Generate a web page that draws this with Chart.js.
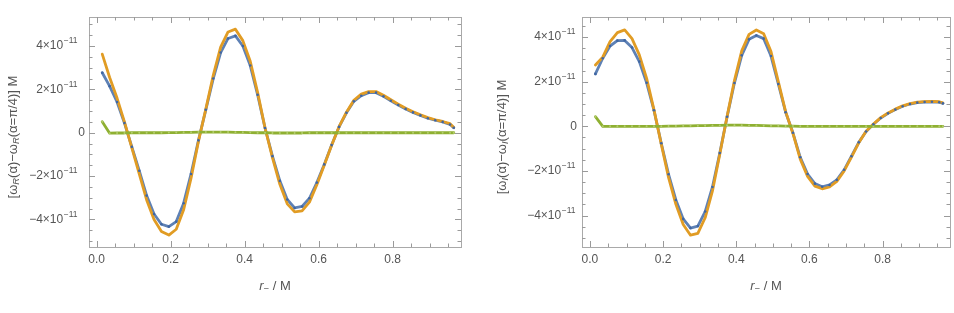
<!DOCTYPE html>
<html>
<head>
<meta charset="utf-8">
<script src="https://cdn.jsdelivr.net/npm/chart.js@4.4.1/dist/chart.umd.min.js"></script>
<style>
  html, body { margin: 0; padding: 0; background: #fff; }
  #wrap { position: relative; width: 954px; height: 313px; overflow: hidden; }
  canvas { position: absolute; top: 0; }
</style>
</head>
<body>
<div id="wrap">
  <canvas id="left-chart" width="477" height="313" style="left:0"></canvas>
  <canvas id="right-chart" width="477" height="313" style="left:477px"></canvas>
</div>
<script>
// r_- / M sample positions
const R_MINUS = [0.015, 0.035, 0.055, 0.075, 0.095, 0.115, 0.135, 0.155, 0.175, 0.195,
  0.215, 0.235, 0.255, 0.275, 0.295, 0.315, 0.335, 0.355, 0.375, 0.395,
  0.415, 0.435, 0.455, 0.475, 0.495, 0.515, 0.535, 0.555, 0.575, 0.595,
  0.615, 0.635, 0.655, 0.675, 0.695, 0.715, 0.735, 0.755, 0.775, 0.795,
  0.815, 0.835, 0.855, 0.875, 0.895, 0.915, 0.935, 0.955, 0.965];

// all values in units of 1e-11
// left panel: omega_R
const WR_BLUE = [2.77, 2.15, 1.42, 0.45, -0.65, -1.75, -2.9, -3.75, -4.22, -4.33,
  -4.1, -3.25, -1.9, -0.35, 1.06, 2.5, 3.7, 4.35, 4.47, 4.0,
  3.1, 1.75, 0.22, -1.08, -2.22, -3.08, -3.47, -3.4, -3.02, -2.3,
  -1.46, -0.57, 0.27, 0.92, 1.45, 1.71, 1.85, 1.85, 1.68, 1.48,
  1.28, 1.1, 0.94, 0.8, 0.67, 0.58, 0.5, 0.38, 0.23];
const WR_ORANGE = [3.63, 2.55, 1.6, 0.5, -0.7, -1.9, -3.1, -4.0, -4.55, -4.72,
  -4.45, -3.55, -2.1, -0.4, 1.1, 2.65, 3.95, 4.65, 4.78, 4.25,
  3.3, 1.85, 0.22, -1.15, -2.38, -3.28, -3.65, -3.6, -3.2, -2.4,
  -1.5, -0.58, 0.28, 0.95, 1.5, 1.78, 1.9, 1.9, 1.73, 1.52,
  1.32, 1.13, 0.97, 0.83, 0.7, 0.6, 0.52, 0.42, 0.25];
const WR_GREEN = [0.51, -0.02, -0.01, -0.01, 0, 0, 0, 0, 0, 0.01,
  0.01, 0.02, 0.02, 0.03, 0.03, 0.03, 0.03, 0.03, 0.02, 0.02,
  0.01, 0, 0, -0.01, -0.01, -0.01, -0.01, -0.01, 0, 0,
  0, 0, 0, 0, 0, 0, 0, 0, 0, 0,
  0, 0, 0, 0, 0, 0, 0, 0, 0];

// right panel: omega_I
const WI_BLUE = [2.35, 3.05, 3.6, 3.84, 3.85, 3.53, 2.9, 1.95, 0.72, -0.76,
  -2.15, -3.3, -4.15, -4.56, -4.47, -3.82, -2.72, -1.2, 0.43, 1.94,
  3.18, 3.9, 4.07, 3.93, 3.15, 1.9, 0.63, -0.29, -1.39, -2.14,
  -2.57, -2.71, -2.63, -2.4, -1.95, -1.34, -0.72, -0.23, 0.09, 0.37,
  0.58, 0.75, 0.9, 1.0, 1.06, 1.09, 1.1, 1.08, 1.03];
const WI_ORANGE = [2.75, 3.1, 3.8, 4.2, 4.32, 3.93, 3.2, 2.15, 0.75, -0.8,
  -2.3, -3.5, -4.4, -4.88, -4.8, -4.1, -2.9, -1.25, 0.45, 2.05,
  3.38, 4.12, 4.32, 4.15, 3.35, 2.0, 0.66, -0.32, -1.47, -2.25,
  -2.68, -2.8, -2.72, -2.47, -2.0, -1.38, -0.74, -0.22, 0.1, 0.39,
  0.6, 0.77, 0.92, 1.02, 1.08, 1.11, 1.12, 1.1, 1.05];
const WI_GREEN = [0.43, 0, 0, 0, 0, 0, 0, 0, 0, 0,
  0.01, 0.01, 0.02, 0.02, 0.03, 0.03, 0.04, 0.04, 0.05, 0.05,
  0.05, 0.04, 0.04, 0.03, 0.02, 0.02, 0.01, 0.01, 0, 0,
  0, 0, 0, 0, 0, 0, 0, 0, 0, 0,
  0, 0, 0, 0, 0, 0, 0, 0, 0];

const X_MAJOR = [0, 0.2, 0.4, 0.6, 0.8];
const Y_MAJOR = [-4, -2, 0, 2, 4];

const BLUE = '#5e81b5';
const ORANGE = '#e19c24';
const GREEN = '#8fb032';
const FONT = '"Liberation Sans", Arial, sans-serif';

function drawRich(ctx, parts, cx, cy, size) {
  // parts: [text, kind]  kind: 'n' normal, 'i' italic, 's' italic subscript
  const fontOf = k => (k === 'n' ? '' : 'italic ') + (k === 's' ? size * 0.72 : size) + 'px ' + FONT;
  let total = 0;
  parts.forEach(p => { ctx.font = fontOf(p[1]); total += ctx.measureText(p[0]).width; });
  let xx = cx - total / 2;
  ctx.textAlign = 'left';
  ctx.textBaseline = 'middle';
  parts.forEach(p => {
    ctx.font = fontOf(p[1]);
    ctx.fillText(p[0], xx, cy + (p[1] === 's' ? size * 0.28 : 0));
    xx += ctx.measureText(p[0]).width;
  });
}

function framePlugin(cfg) {
  return {
    id: 'frameTicks',
    afterDatasetsDraw(chart) {
      const { ctx, chartArea: a, scales: { x, y } } = chart;
      ctx.save();
      // frame
      ctx.strokeStyle = '#a9a9a9';
      ctx.lineWidth = 1;
      ctx.strokeRect(Math.round(a.left) + 0.5, Math.round(a.top) + 0.5,
        Math.round(a.right - a.left), Math.round(a.bottom - a.top));

      // ticks, all four sides, pointing inward
      ctx.strokeStyle = '#9a9a9a';
      ctx.beginPath();
      for (let k = 0; k * 0.05 <= x.max; k++) {
        const v = k * 0.05;
        const len = k % 4 === 0 ? 6 : 3.5;
        const px = Math.round(x.getPixelForValue(v)) + 0.5;
        ctx.moveTo(px, a.bottom); ctx.lineTo(px, a.bottom - len);
        ctx.moveTo(px, a.top); ctx.lineTo(px, a.top + len);
      }
      for (let k = Math.ceil(y.min / 0.5); k * 0.5 <= y.max; k++) {
        const len = k % 4 === 0 ? 6 : 3.5;
        const py = Math.round(y.getPixelForValue(k * 0.5)) + 0.5;
        ctx.moveTo(a.left, py); ctx.lineTo(a.left + len, py);
        ctx.moveTo(a.right, py); ctx.lineTo(a.right - len, py);
      }
      ctx.stroke();

      // tick labels
      ctx.fillStyle = '#555';
      ctx.font = '12px ' + FONT;
      ctx.textAlign = 'center';
      ctx.textBaseline = 'middle';
      X_MAJOR.forEach(v => {
        ctx.fillText(v.toFixed(1), x.getPixelForValue(v), a.bottom + 13);
      });
      Y_MAJOR.forEach(v => {
        const py = y.getPixelForValue(v);
        ctx.textAlign = 'left';
        if (v === 0) {
          ctx.font = '12px ' + FONT;
          ctx.fillText('0', cfg.zeroRight - ctx.measureText('0').width, py);
          return;
        }
        const base = (v < 0 ? '\u2212' : '') + Math.abs(v) + '\u00d710';
        ctx.font = '12px ' + FONT;
        const wb = ctx.measureText(base).width;
        ctx.font = '8.5px ' + FONT;
        const ws = ctx.measureText('\u221211').width;
        const start = cfg.labelRight - wb - ws;
        ctx.font = '12px ' + FONT;
        ctx.fillText(base, start, py);
        ctx.font = '8.5px ' + FONT;
        ctx.fillText('\u221211', start + wb + 0.5, py - 5);
      });

      // axis titles
      drawRich(ctx, [['r', 'i'], ['\u2212', 's'], [' / M', 'n']], (a.left + a.right) / 2, 286, 13);
      ctx.translate(cfg.titleX, 137);
      ctx.rotate(-Math.PI / 2);
      drawRich(ctx, cfg.title, 0, 0, 13);
      ctx.restore();
    }
  };
}

function makeChart(id, blue, orange, green, cfg) {
  const pts = arr => R_MINUS.map((r, i) => ({ x: r, y: arr[i] }));
  const line = (arr, color) => ({
    data: pts(arr), borderColor: color, borderWidth: 2.8, pointRadius: 0,
    fill: false, tension: 0, borderJoinStyle: 'round', borderCapStyle: 'round'
  });
  return new Chart(document.getElementById(id), {
    type: 'line',
    data: {
      datasets: [
        { data: pts(blue), showLine: false, pointRadius: 1.3, pointBorderWidth: 0, pointBackgroundColor: '#3f66a3' },
        { data: pts(green), showLine: false, pointRadius: 1, pointBorderWidth: 0, pointBackgroundColor: '#b3cd6e' },
        line(green, GREEN),
        line(orange, ORANGE),
        line(blue, BLUE)
      ]
    },
    options: {
      responsive: false,
      animation: false,
      devicePixelRatio: 1,
      layout: { padding: cfg.padding },
      plugins: { legend: { display: false }, tooltip: { enabled: false } },
      scales: {
        x: { type: 'linear', display: false, min: cfg.xMin, max: cfg.xMax },
        y: { type: 'linear', display: false, min: cfg.yMin, max: cfg.yMax }
      }
    },
    plugins: [framePlugin(cfg)]
  });
}

makeChart('left-chart', WR_BLUE, WR_ORANGE, WR_GREEN, {
  padding: { left: 89, right: 16, top: 17, bottom: 66 },
  xMin: -0.0208, xMax: 0.9846, yMin: -5.27, yMax: 5.34,
  labelRight: 77, zeroRight: 85, titleX: 13,
  title: [['[\u03c9', 'n'], ['R', 's'], ['(\u03b1)\u2212\u03c9', 'n'], ['R', 's'], ['(\u03b1=\u03c0/4)] M', 'n']]
});

makeChart('right-chart', WI_BLUE, WI_ORANGE, WI_GREEN, {
  padding: { left: 105, right: 1, top: 17, bottom: 66 },
  xMin: -0.0217, xMax: 0.9844, yMin: -5.41, yMax: 4.90,
  labelRight: 98, zeroRight: 100, titleX: 25,
  title: [['[\u03c9', 'n'], ['I', 's'], ['(\u03b1)\u2212\u03c9', 'n'], ['I', 's'], ['(\u03b1=\u03c0/4)] M', 'n']]
});
</script>
</body>
</html>
